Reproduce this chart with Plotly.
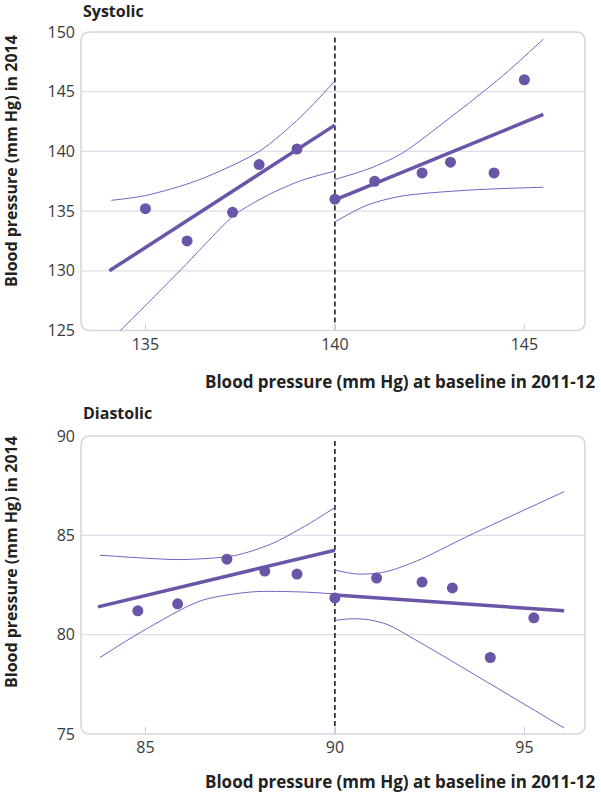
import plotly.graph_objects as go

# ---------------- data ----------------
sys_x = [135.0, 136.1, 137.3, 138.0, 139.0, 140.0, 141.05, 142.3, 143.05, 144.2, 145.0]
sys_y = [135.2, 132.5, 134.9, 138.9, 140.2, 136.0, 137.5, 138.2, 139.1, 138.2, 146.0]

sys_fit_left_x = [134.05, 140.0]
sys_fit_left_y = [130.0, 142.2]
sys_fit_right_x = [140.0, 145.5]
sys_fit_right_y = [135.95, 143.1]

sys_ci_left_up_x = [134.1, 135.0, 136.4, 138.0, 139.1, 140.0]
sys_ci_left_up_y = [135.9, 136.3, 137.6, 140.0, 142.9, 145.9]
sys_ci_left_lo_x = [134.1, 135.0, 136.0, 137.3, 137.7, 138.3, 139.1, 140.0]
sys_ci_left_lo_y = [124.25, 127.1, 130.3, 134.55, 135.4, 136.45, 137.55, 138.35]
sys_ci_right_up_x = [140.0, 140.9, 141.75, 143.05, 144.4, 145.5]
sys_ci_right_up_y = [137.65, 138.55, 139.8, 142.85, 146.25, 149.4]
sys_ci_right_lo_x = [140.0, 140.85, 141.75, 143.5, 145.5]
sys_ci_right_lo_y = [134.1, 135.5, 136.25, 136.75, 137.0]

dia_x = [84.8, 85.85, 87.15, 88.15, 89.0, 90.0, 91.1, 92.3, 93.1, 94.1, 95.25]
dia_y = [81.2, 81.55, 83.8, 83.2, 83.05, 81.85, 82.85, 82.65, 82.35, 78.85, 80.85]

dia_fit_left_x = [83.75, 90.0]
dia_fit_left_y = [81.4, 84.25]
dia_fit_right_x = [90.0, 96.05]
dia_fit_right_y = [82.0, 81.2]

dia_ci_left_up_x = [83.8, 85.0, 85.95, 87.35, 88.3, 89.2, 90.0]
dia_ci_left_up_y = [84.0, 83.85, 83.78, 83.98, 84.55, 85.45, 86.4]
dia_ci_left_lo_x = [83.8, 84.9, 86.45, 87.8, 89.1, 90.0]
dia_ci_left_lo_y = [78.85, 80.15, 81.7, 82.15, 82.15, 82.05]
dia_ci_right_up_x = [90.0, 90.6, 91.3, 92.15, 93.5, 96.05]
dia_ci_right_up_y = [83.25, 83.05, 83.15, 83.7, 84.95, 87.2]
dia_ci_right_lo_x = [90.0, 90.45, 90.9, 91.4, 92.2, 96.05]
dia_ci_right_lo_y = [80.72, 80.8, 80.75, 80.5, 79.66, 75.3]

sys_xticks = [135, 140, 145]
sys_yticks = [125, 130, 135, 140, 145, 150]
dia_xticks = [85, 90, 95]
dia_yticks = [75, 80, 85, 90]
sys_cut = 140
dia_cut = 90

panel_titles = ["Systolic", "Diastolic"]
x_title = "Blood pressure (mm Hg) at baseline in 2011-12"
y_title = "Blood pressure (mm Hg) in 2014"

# ---------------- style ----------------
W, H = 601, 794
PURPLE = "#6a55a9"
THIN = "#7562c0"
GRID = "#dedee8"
BORDER = "#d6d6e2"
FONT = "Open Sans"

XDOM = [81 / W, 585 / W]
Y1DOM = [1 - 330.5 / H, 1 - 32 / H]
Y2DOM = [1 - 734 / H, 1 - 436 / H]

fig = go.Figure()


def add_panel(xa, ya, px, py, fits, cis):
    for fx, fy in cis:
        fig.add_trace(go.Scatter(x=fx, y=fy, mode="lines", xaxis=xa, yaxis=ya,
                                 line=dict(color=THIN, width=1, shape="spline", smoothing=0.8),
                                 hoverinfo="skip", showlegend=False))
    for fx, fy in fits:
        fig.add_trace(go.Scatter(x=fx, y=fy, mode="lines", xaxis=xa, yaxis=ya,
                                 line=dict(color=PURPLE, width=3.5),
                                 hoverinfo="skip", showlegend=False))
    fig.add_trace(go.Scatter(x=px, y=py, mode="markers", xaxis=xa, yaxis=ya,
                             marker=dict(color=PURPLE, size=11, line=dict(width=0)),
                             showlegend=False))


add_panel("x", "y", sys_x, sys_y,
          [(sys_fit_left_x, sys_fit_left_y), (sys_fit_right_x, sys_fit_right_y)],
          [(sys_ci_left_up_x, sys_ci_left_up_y), (sys_ci_left_lo_x, sys_ci_left_lo_y),
           (sys_ci_right_up_x, sys_ci_right_up_y), (sys_ci_right_lo_x, sys_ci_right_lo_y)])
add_panel("x2", "y2", dia_x, dia_y,
          [(dia_fit_left_x, dia_fit_left_y), (dia_fit_right_x, dia_fit_right_y)],
          [(dia_ci_left_up_x, dia_ci_left_up_y), (dia_ci_left_lo_x, dia_ci_left_lo_y),
           (dia_ci_right_up_x, dia_ci_right_up_y), (dia_ci_right_lo_x, dia_ci_right_lo_y)])


def rounded_path(x0, x1, y0, y1, r=9):
    rx, ry = r / W, r / H
    return (f"M {x0+rx},{y1} L {x1-rx},{y1} Q {x1},{y1} {x1},{y1-ry} "
            f"L {x1},{y0+ry} Q {x1},{y0} {x1-rx},{y0} L {x0+rx},{y0} "
            f"Q {x0},{y0} {x0},{y0+ry} L {x0},{y1-ry} Q {x0},{y1} {x0+rx},{y1} Z")


shapes = []
for ydom in (Y1DOM, Y2DOM):
    shapes.append(dict(type="path", xref="paper", yref="paper",
                       path=rounded_path(XDOM[0], XDOM[1], ydom[0], ydom[1]),
                       line=dict(color=BORDER, width=1.6), layer="below"))
for v in sys_yticks[1:-1]:
    shapes.append(dict(type="line", xref="x domain", yref="y", x0=0, x1=1, y0=v, y1=v,
                       line=dict(color=GRID, width=1.2), layer="below"))
for v in dia_yticks[1:-1]:
    shapes.append(dict(type="line", xref="x2 domain", yref="y2", x0=0, x1=1, y0=v, y1=v,
                       line=dict(color=GRID, width=1.2), layer="below"))
shapes.append(dict(type="line", xref="x", yref="y domain", x0=sys_cut, x1=sys_cut, y0=0, y1=0.99,
                   line=dict(color="#111111", width=1.5, dash="5px,3px"), layer="below"))
shapes.append(dict(type="line", xref="x2", yref="y2 domain", x0=dia_cut, x1=dia_cut, y0=0, y1=0.99,
                   line=dict(color="#111111", width=1.5, dash="5px,3px"), layer="below"))

tickfont = dict(family=FONT, size=16, color="#3a3a3a")
xcommon = dict(showgrid=False, zeroline=False, showline=False, ticks="inside", ticklen=7,
               tickwidth=1.5, tickcolor="#cfcfdc", tickfont=tickfont, ticklabelstandoff=2,
               fixedrange=True)
ycommon = dict(showgrid=False, zeroline=False, showline=False, ticks="", tickfont=tickfont,
               ticklabelstandoff=5, fixedrange=True)

fig.update_layout(
    width=W, height=H,
    margin=dict(l=0, r=0, t=0, b=0, autoexpand=False),
    paper_bgcolor="white", plot_bgcolor="rgba(0,0,0,0)",
    showlegend=False,
    xaxis=dict(domain=XDOM, range=[133.3, 146.6], tickvals=sys_xticks, anchor="y", **xcommon),
    yaxis=dict(domain=Y1DOM, range=[125, 150], tickvals=sys_yticks, anchor="x", **ycommon),
    xaxis2=dict(domain=XDOM, range=[83.3, 96.6], tickvals=dia_xticks, anchor="y2", **xcommon),
    yaxis2=dict(domain=Y2DOM, range=[75, 90], tickvals=dia_yticks, anchor="x2", **ycommon),
    shapes=shapes,
)

bold = dict(family=FONT, size=16, color="#222222")
ann = []
for title, yc in zip(panel_titles, [1 - 11 / H, 1 - 413 / H]):
    ann.append(dict(text=f"<b>{title}</b>", xref="paper", yref="paper", x=XDOM[0], y=yc,
                    xanchor="left", yanchor="middle", showarrow=False, font=bold))
for yc in [1 - 382 / H, 1 - 781 / H]:
    ann.append(dict(text=f"<b>{x_title}</b>", xref="paper", yref="paper", x=597 / W, y=yc,
                    xanchor="right", yanchor="middle", showarrow=False,
                    font=dict(family=FONT, size=17, color="#222222")))
for yc in [1 - 161 / H, 1 - 562 / H]:
    ann.append(dict(text=f"<b>{y_title}</b>", xref="paper", yref="paper", x=11 / W, y=yc,
                    xanchor="center", yanchor="middle", textangle=-90, showarrow=False, font=bold))
fig.update_layout(annotations=ann)

fig.write_html("out.html", config={"displayModeBar": False, "staticPlot": True},
               post_script="document.body.style.margin='0';document.body.style.overflow='hidden';")
